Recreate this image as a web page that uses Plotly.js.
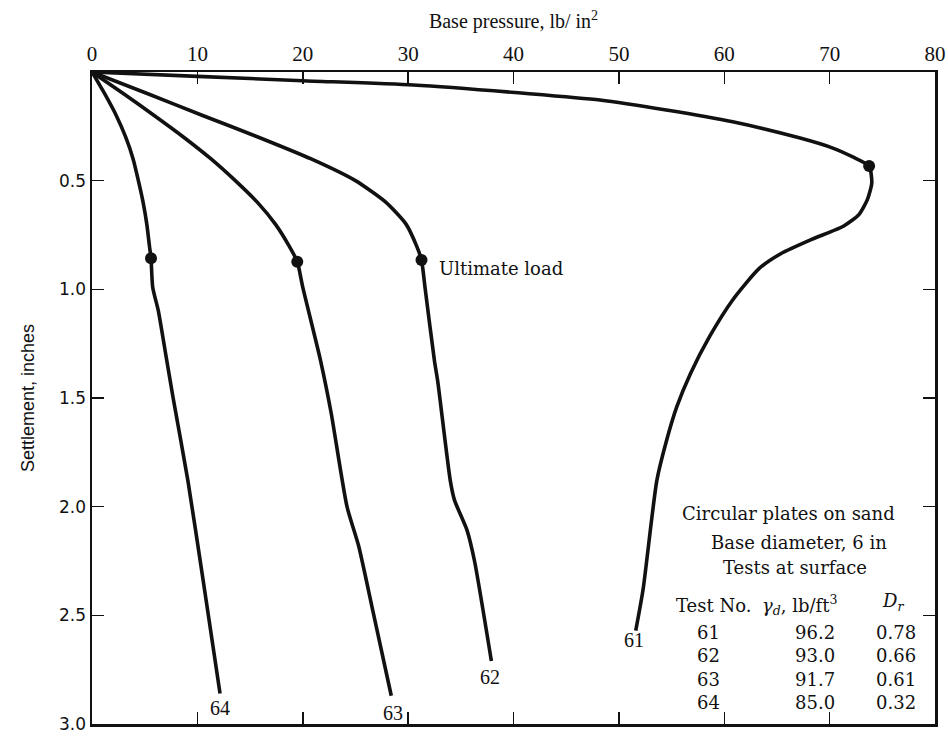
<!DOCTYPE html>
<html>
<head>
<meta charset="utf-8">
<script src="https://cdn.plot.ly/plotly-3.0.1.min.js"></script>
<style>html,body{margin:0;padding:0;background:#fff;}#chart{width:948px;height:736px;}</style>
</head>
<body>
<div id="chart"></div>
<script>
// Base pressure (lb/in^2) vs settlement (in) for each test
const p61 = [0, 10, 20, 30.5, 41.5, 48.2, 54.5, 60.8, 67.2, 70.3, 72.2, 73.75, 74.0, 73.6, 72.8, 71.3, 68.3, 65.4, 63.3, 60.8, 58.6, 56.8, 55.5, 54.5, 53.6, 52.3, 51.6];
const s61 = [0, 0.02, 0.04, 0.06, 0.10, 0.129, 0.175, 0.229, 0.304, 0.35, 0.391, 0.433, 0.51, 0.585, 0.655, 0.71, 0.77, 0.835, 0.905, 1.049, 1.218, 1.387, 1.54, 1.70, 1.88, 2.38, 2.57];
const p62 = [0, 5.3, 10.5, 15.8, 20.8, 25.0, 27.9, 29.8, 30.8, 31.27, 31.6, 32.5, 32.8, 34.0, 34.4, 35.6, 36.3, 37.9];
const s62 = [0, 0.1, 0.2, 0.3, 0.4, 0.5, 0.6, 0.7, 0.8, 0.865, 0.99, 1.33, 1.42, 1.88, 1.97, 2.11, 2.25, 2.71];
const p63 = [0, 3.0, 5.9, 8.7, 11.3, 13.6, 15.7, 17.4, 18.7, 19.48, 20.0, 21.7, 22.7, 24.2, 25.3, 26.7, 28.4];
const s63 = [0, 0.1, 0.2, 0.3, 0.4, 0.5, 0.6, 0.7, 0.8, 0.873, 0.99, 1.33, 1.57, 2.0, 2.18, 2.49, 2.87];
const p64 = [0, 1.2, 2.3, 3.2, 3.9, 4.4, 4.85, 5.2, 5.45, 5.6, 5.76, 6.3, 7.0, 7.7, 9.1, 10.55, 12.15];
const s64 = [0, 0.1, 0.2, 0.3, 0.4, 0.5, 0.6, 0.7, 0.8, 0.857, 0.99, 1.1, 1.3, 1.5, 1.88, 2.34, 2.86];

// Ultimate load points
const ultP = [73.75, 31.27, 19.48, 5.6];
const ultS = [0.433, 0.865, 0.873, 0.857];

// Curve labels
const testNames = ["61", "62", "63", "64"];
const labelP = [51.42, 37.76, 28.56, 12.14];
const labelS = [2.614, 2.784, 2.95, 2.927];

// Table
const gammaD = ["96.2", "93.0", "91.7", "85.0"];
const relDen = ["0.78", "0.66", "0.61", "0.32"];

const xTicks = [0, 10, 20, 30, 40, 50, 60, 70, 80];
const yTicks = [0.5, 1.0, 1.5, 2.0, 2.5, 3.0];
const yTickText = ["0.5", "1.0", "1.5", "2.0", "2.5", "3.0"];

const serif = "Liberation Serif, Times New Roman, serif";
const century = "DejaVu Serif, serif";
const ink = "#111";

const lineStyle = {color: ink, width: 3.6, shape: "spline", smoothing: 0.6};
const traces = [
  {x: p61, y: s61, mode: "lines", line: lineStyle, hoverinfo: "skip"},
  {x: p62, y: s62, mode: "lines", line: lineStyle, hoverinfo: "skip"},
  {x: p63, y: s63, mode: "lines", line: lineStyle, hoverinfo: "skip"},
  {x: p64, y: s64, mode: "lines", line: lineStyle, hoverinfo: "skip"},
  {x: ultP, y: ultS, mode: "markers", marker: {color: ink, size: 12}, hoverinfo: "skip"}
];

const ann = [];
const txt = (x, y, text, opts) => Object.assign({x: x, y: y, xref: "x", yref: "y", text: text, showarrow: false,
  font: {family: century, size: 18, color: ink}}, opts || {});

ann.push(txt(32.73, 0.902, "Ultimate load", {xanchor: "left"}));
testNames.forEach((n, i) => ann.push(txt(labelP[i], labelS[i], n, {font: {family: serif, size: 20, color: ink}})));
ann.push(txt(66.1, 2.03, "Circular plates on sand"));
ann.push(txt(67.1, 2.167, "Base diameter, 6 in"));
ann.push(txt(66.7, 2.278, "Tests at surface"));
ann.push(txt(55.2, 2.453, "Test No.", {xanchor: "left"}));
ann.push(txt(63.4, 2.453, "<i>γ</i><sub><i>d</i></sub>, lb/ft<sup>3</sup>", {xanchor: "left"}));
ann.push(txt(76.0, 2.44, "<i>D</i><sub><i>r</i></sub>"));
// table body as columns
ann.push(txt(58.54, 2.577, testNames.join("<br>"), {yanchor: "top", yshift: 12}));
ann.push(txt(70.68, 2.577, gammaD.join("<br>"), {xanchor: "right", align: "right", yanchor: "top", yshift: 12}));
ann.push(txt(76.28, 2.577, relDen.join("<br>"), {yanchor: "top", yshift: 12}));

const layout = {
  width: 948, height: 736,
  margin: {l: 92, r: 13, t: 72, b: 12, pad: 0},
  paper_bgcolor: "#fff", plot_bgcolor: "#fff",
  showlegend: false,
  xaxis: {
    side: "top", range: [0, 80], tickvals: xTicks, ticks: "inside", ticklen: 12, tickwidth: 1.5,
    tickcolor: ink, showline: true, linecolor: ink, linewidth: 2.5, mirror: "ticks",
    showgrid: false, zeroline: false,
    tickfont: {family: serif, size: 21, color: ink},
    title: {text: "Base pressure, lb/ in<sup>2</sup>", font: {family: serif, size: 20, color: ink}, standoff: 8}
  },
  yaxis: {
    range: [3, 0], tickvals: yTicks, ticktext: yTickText, ticks: "inside", ticklen: 12, tickwidth: 1.5,
    tickcolor: ink, showline: true, linecolor: ink, linewidth: 2.5, mirror: "ticks",
    showgrid: false, zeroline: false,
    tickfont: {family: "DejaVu Sans, sans-serif", size: 17, color: ink},
    title: {text: "Settlement, inches", font: {family: "Liberation Sans, Arial, sans-serif", size: 18, color: ink}, standoff: 20}
  },
  annotations: ann
};

Plotly.newPlot("chart", traces, layout, {displayModeBar: false, staticPlot: true});
</script>
</body>
</html>
